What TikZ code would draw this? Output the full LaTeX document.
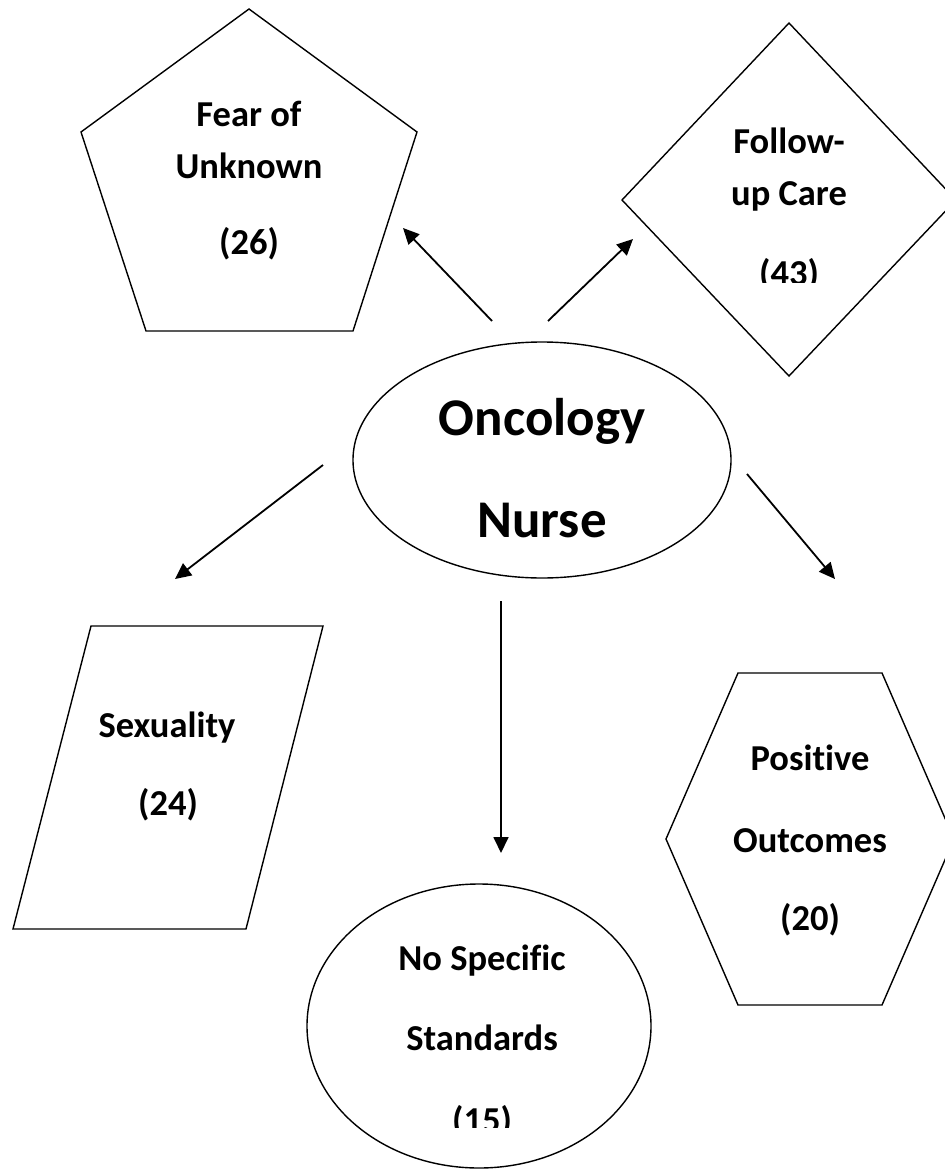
\documentclass[tikz,border=0pt]{standalone}
\usepackage{fontspec}
\setmainfont[Ligatures={NoCommon}]{Carlito}
\usetikzlibrary{arrows.meta}
\begin{document}
\begin{tikzpicture}[x=1pt,y=-1pt,
  outline/.style={line width=1.4pt, line join=miter},
  conn/.style={line width=1.8pt, -{Triangle[length=16pt,width=15pt]}},
  lbl/.style={font=\fontsize{36.5}{44}\selectfont\bfseries, anchor=base, inner sep=0pt},
  big/.style={font=\fontsize{53}{64}\selectfont\bfseries, anchor=base, inner sep=0pt}]
\useasboundingbox (0,0) rectangle (945,1173);
\clip (0,0) rectangle (945,1173);

% Pentagon: Fear of Unknown
\coordinate (p1) at (249,9);
\coordinate (p2) at (417,132);
\coordinate (p3) at (353,331);
\coordinate (p4) at (146,331);
\coordinate (p5) at (81,132);
\draw[outline] (p1) -- (p2) -- (p3) -- (p4) -- (p5) -- cycle;
\node[lbl] (fear1) at (249,126) {Fear of};
\node[lbl] (fear2) at (249,178) {Unknown};
\node[lbl] (fear3) at (249,254) {(26)};

% Diamond: Follow-up Care
\coordinate (d1) at (789,23);
\coordinate (d2) at (956,200);
\coordinate (d3) at (789,376);
\coordinate (d4) at (622,200);
\draw[outline] (d1) -- (d2) -- (d3) -- (d4) -- cycle;
\node[lbl] (fol1) at (789,153) {Follow-};
\node[lbl] (fol2) at (789,205) {up Care};
\begin{scope}
  \clip (600,0) rectangle (945,282);
  \node[lbl] (fol3) at (789,285) {(43)};
\end{scope}

% Central ellipse
\draw[outline] (542,460) ellipse [x radius=189pt, y radius=118pt];
\node[big] (onc1) at (542,435) {Oncology};
\node[big] (onc2) at (542,537) {Nurse};

% Parallelogram: Sexuality
\coordinate (s1) at (91,626);
\coordinate (s2) at (323,626);
\coordinate (s3) at (246,929);
\coordinate (s4) at (13,929);
\draw[outline] (s1) -- (s2) -- (s3) -- (s4) -- cycle;
\node[lbl] (sex1) at (167,737) {Sexuality};
\node[lbl] (sex2) at (168,815) {(24)};

% Hexagon: Positive Outcomes
\coordinate (h1) at (738,673);
\coordinate (h2) at (882,673);
\coordinate (h3) at (954,839);
\coordinate (h4) at (882,1005);
\coordinate (h5) at (738,1005);
\coordinate (h6) at (666,839);
\draw[outline] (h1) -- (h2) -- (h3) -- (h4) -- (h5) -- (h6) -- cycle;
\node[lbl] (pos1) at (810,770) {Positive};
\node[lbl] (pos2) at (810,852) {Outcomes};
\node[lbl] (pos3) at (810,930) {(20)};

% Circle: No Specific Standards
\draw[outline] (479,1026) ellipse [x radius=172pt, y radius=142pt];
\node[lbl] (nos1) at (482,970) {No Specific};
\node[lbl] (nos2) at (482,1050) {Standards};
\begin{scope}
  \clip (300,1000) rectangle (660,1127);
  \node[lbl] (nos3) at (482,1132) {(15)};
\end{scope}

% Connectors
\coordinate (a1s) at (492,321); \coordinate (a1e) at (403,228);
\coordinate (a2s) at (548,321); \coordinate (a2e) at (633,239);
\coordinate (a3s) at (323,465); \coordinate (a3e) at (175,579);
\coordinate (a4s) at (747,474); \coordinate (a4e) at (835,579);
\coordinate (a5s) at (501,601); \coordinate (a5e) at (501,853);
\draw[conn] (a1s) -- (a1e);
\draw[conn] (a2s) -- (a2e);
\draw[conn] (a3s) -- (a3e);
\draw[conn] (a4s) -- (a4e);
\draw[conn] (a5s) -- (a5e);
\end{tikzpicture}
\end{document}
